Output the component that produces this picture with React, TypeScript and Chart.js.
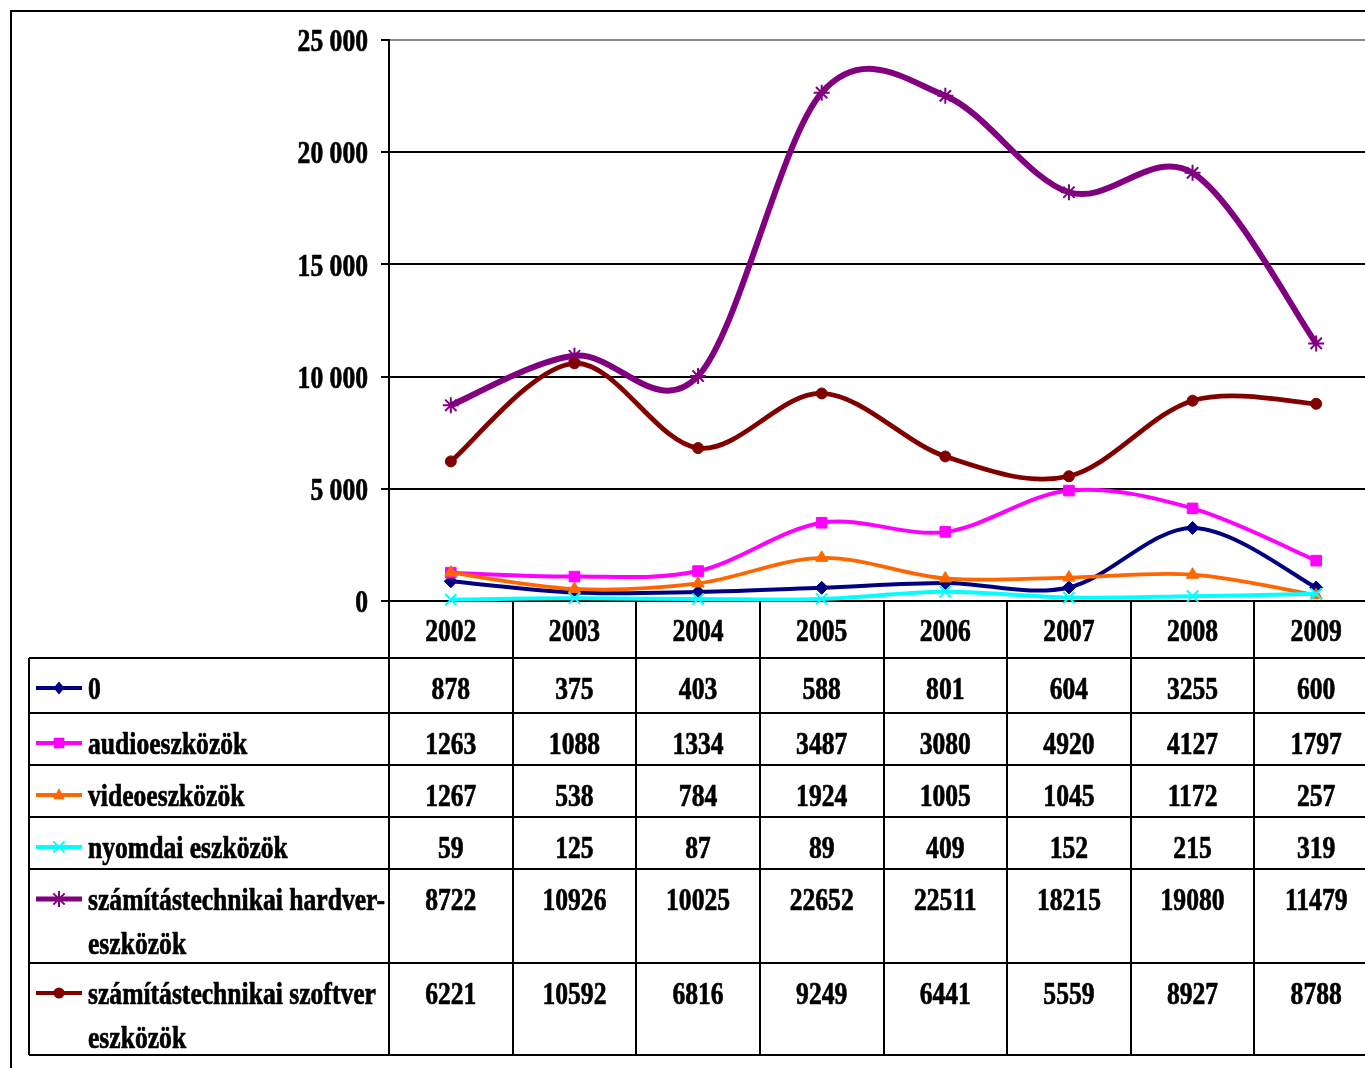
import React, { useEffect, useRef } from 'react';
import { Chart, registerables } from 'chart.js';

Chart.register(...registerables);

const years = ['2002', '2003', '2004', '2005', '2006', '2007', '2008', '2009'];
const seriesZero = [878, 375, 403, 588, 801, 604, 3255, 600];
const audioValues = [1263, 1088, 1334, 3487, 3080, 4920, 4127, 1797];
const videoValues = [1267, 538, 784, 1924, 1005, 1045, 1172, 257];
const printValues = [59, 125, 87, 89, 409, 152, 215, 319];
const hardwareValues = [8722, 10926, 10025, 22652, 22511, 18215, 19080, 11479];
const softwareValues = [6221, 10592, 6816, 9249, 6441, 5559, 8927, 8788];

const seriesLabels: string[][] = [
  ['0'],
  ['audioeszközök'],
  ['videoeszközök'],
  ['nyomdai eszközök'],
  ['számítástechnikai hardver-', 'eszközök'],
  ['számítástechnikai szoftver', 'eszközök'],
];
const seriesValues = [seriesZero, audioValues, videoValues, printValues, hardwareValues, softwareValues];
const seriesColors = ['#000080', '#FF00FF', '#FF6600', '#00FFFF', '#800080', '#800000'];
const seriesMarkers = ['rectRot', 'rect', 'triangle', 'crossRot', 'star', 'circle'];
const markerRadius = [6.5, 7.5, 7, 8, 8, 5.5];
const lineWidths = [4, 4, 3.8, 4, 6, 4.8];

// layout constants (pixels)
const FONT = 'bold 32px "Liberation Serif", "Times New Roman", serif';
const TEXT_SCALE = 0.8;
const TEXT_DY = 3;
const TABLE_LEFT = 29;
const ROW_TOPS = [658, 713, 765, 817, 869, 963];
const TABLE_BOTTOM = 1055;
const LABEL_X = 88;

function fmt(v: number): string {
  return String(v).replace(/\B(?=(\d{3})+(?!\d))/g, ' ');
}

function drawText(ctx: CanvasRenderingContext2D, text: string, x: number, y: number, align: CanvasTextAlign, sx = TEXT_SCALE) {
  ctx.save();
  ctx.translate(x, y + TEXT_DY);
  ctx.scale(sx, 1);
  ctx.font = FONT;
  ctx.fillStyle = '#000';
  ctx.strokeStyle = '#000';
  ctx.lineWidth = 0.7;
  ctx.lineJoin = 'round';
  ctx.textAlign = align;
  ctx.textBaseline = 'middle';
  ctx.fillText(text, 0, 0);
  ctx.strokeText(text, 0, 0);
  ctx.restore();
}

function drawMarker(ctx: CanvasRenderingContext2D, style: string, cx: number, cy: number, r: number, color: string) {
  ctx.save();
  ctx.fillStyle = color;
  ctx.strokeStyle = color;
  ctx.lineWidth = 2;
  ctx.beginPath();
  if (style === 'rectRot') {
    ctx.moveTo(cx, cy - r);
    ctx.lineTo(cx + r * 0.85, cy);
    ctx.lineTo(cx, cy + r);
    ctx.lineTo(cx - r * 0.85, cy);
    ctx.closePath();
    ctx.fill();
  } else if (style === 'rect') {
    const s = r * Math.SQRT1_2;
    ctx.rect(cx - s, cy - s, 2 * s, 2 * s);
    ctx.fill();
  } else if (style === 'triangle') {
    ctx.moveTo(cx, cy - r);
    ctx.lineTo(cx + r * 0.8, cy + r * 0.6);
    ctx.lineTo(cx - r * 0.8, cy + r * 0.6);
    ctx.closePath();
    ctx.fill();
  } else if (style === 'crossRot') {
    const d = r * Math.SQRT1_2;
    ctx.moveTo(cx - d, cy - d);
    ctx.lineTo(cx + d, cy + d);
    ctx.moveTo(cx + d, cy - d);
    ctx.lineTo(cx - d, cy + d);
    ctx.stroke();
  } else if (style === 'star') {
    const d = r * Math.SQRT1_2;
    ctx.moveTo(cx - d, cy - d);
    ctx.lineTo(cx + d, cy + d);
    ctx.moveTo(cx + d, cy - d);
    ctx.lineTo(cx - d, cy + d);
    ctx.moveTo(cx, cy - r);
    ctx.lineTo(cx, cy + r);
    ctx.stroke();
  } else {
    ctx.arc(cx, cy, r, 0, Math.PI * 2);
    ctx.fill();
  }
  ctx.restore();
}

// Excel-like smoothing (Catmull-Rom control points on the scale-computed pixel positions)
const excelSmooth = {
  id: 'excelSmooth',
  beforeDatasetsDraw(chart: any) {
    chart.data.datasets.forEach((_ds: any, i: number) => {
      const meta = chart.getDatasetMeta(i);
      const pts = meta.data as any[];
      for (let k = 0; k < pts.length; k++) {
        const p = pts[k];
        const prev = pts[k - 1] || p;
        const next = pts[k + 1] || p;
        const dx = (next.x - prev.x) / 6;
        const dy = (next.y - prev.y) / 6;
        p.cp1x = p.x - dx;
        p.cp1y = p.y - dy;
        p.cp2x = p.x + dx;
        p.cp2y = p.y + dy;
      }
      if (meta.dataset) {
        meta.dataset._pointsUpdated = true;
        meta.dataset._path = undefined;
      }
    });
  },
};

const tablePlugin = {
  id: 'dataTable',
  afterDraw(chart: any) {
    const ctx: CanvasRenderingContext2D = chart.ctx;
    const xs = chart.scales.x;
    const ys = chart.scales.y;
    const area = chart.chartArea;
    const W = chart.width;
    ctx.save();

    // outer frame
    ctx.strokeStyle = '#000';
    ctx.lineWidth = 2;
    ctx.beginPath();
    ctx.moveTo(11, chart.height + 5);
    ctx.lineTo(11, 11);
    ctx.lineTo(W + 5, 11);
    ctx.stroke();

    // y axis labels
    ys.ticks.forEach((t: any) => {
      drawText(ctx, fmt(t.value), 368, ys.getPixelForValue(t.value), 'right');
    });

    const colW = xs.getPixelForValue(1) - xs.getPixelForValue(0);

    // grid of table
    ctx.strokeStyle = '#000';
    ctx.lineWidth = 2;
    ctx.beginPath();
    [...ROW_TOPS, TABLE_BOTTOM].forEach((yy) => {
      ctx.moveTo(TABLE_LEFT, yy);
      ctx.lineTo(W, yy);
    });
    ctx.moveTo(TABLE_LEFT, ROW_TOPS[0]);
    ctx.lineTo(TABLE_LEFT, TABLE_BOTTOM);
    for (let i = 0; i <= years.length; i++) {
      const bx = Math.round(xs.getPixelForValue(0) - colW / 2 + i * colW);
      ctx.moveTo(bx, area.bottom);
      ctx.lineTo(bx, TABLE_BOTTOM);
    }
    ctx.stroke();

    // header years
    const headerMid = (area.bottom + ROW_TOPS[0]) / 2;
    years.forEach((yr, i) => {
      drawText(ctx, yr, xs.getPixelForValue(i), headerMid, 'center');
    });

    // rows
    seriesLabels.forEach((lines, r) => {
      const top = ROW_TOPS[r];
      const c1 = top + 30;
      // legend key
      ctx.save();
      ctx.strokeStyle = seriesColors[r];
      ctx.lineWidth = r === 4 ? 5 : 4;
      ctx.beginPath();
      ctx.moveTo(36, c1);
      ctx.lineTo(82, c1);
      ctx.stroke();
      ctx.restore();
      drawMarker(ctx, seriesMarkers[r], 59, c1, markerRadius[r], seriesColors[r]);
      lines.forEach((ln, li) => {
        drawText(ctx, ln, LABEL_X, c1 + li * 44, 'left');
      });
      seriesValues[r].forEach((v, i) => {
        drawText(ctx, String(v), xs.getPixelForValue(i), c1, 'center');
      });
    });

    ctx.restore();
  },
};

export default function App() {
  const ref = useRef<HTMLCanvasElement | null>(null);

  useEffect(() => {
    if (!ref.current) return;
    const datasets = seriesValues.map((vals, i) => ({
      label: seriesLabels[i].join(' '),
      data: vals,
      borderColor: seriesColors[i],
      backgroundColor: seriesColors[i],
      borderWidth: lineWidths[i],
      pointStyle: seriesMarkers[i] as any,
      pointRadius: markerRadius[i],
      pointBorderWidth: seriesMarkers[i] === 'crossRot' || seriesMarkers[i] === 'star' ? 2 : 1,
      pointBorderColor: seriesColors[i],
      pointBackgroundColor: seriesColors[i],
      tension: 0.4,
      fill: false,
      clip: false as any,
      order: seriesValues.length - i,
    }));
    const chart = new Chart(ref.current, {
      type: 'line',
      data: { labels: years, datasets },
      options: {
        responsive: false,
        animation: false,
        devicePixelRatio: 1,
        layout: { padding: { left: 381, top: 40, right: 22, bottom: 467 } },
        plugins: { legend: { display: false }, tooltip: { enabled: false } },
        scales: {
          x: { type: 'category', display: false, offset: true },
          y: {
            min: 0,
            max: 25000,
            ticks: { stepSize: 5000, display: false },
            grid: {
              lineWidth: 2,
              drawTicks: true,
              tickLength: 8,
              tickColor: '#000',
              color: (c: any) => (c.tick && c.tick.value === 25000 ? '#8c8c8c' : '#000'),
            },
            border: { display: true, color: '#000', width: 2 },
          },
        },
      },
      plugins: [excelSmooth, tablePlugin],
    });
    return () => chart.destroy();
  }, []);

  return (
    <div style={{ position: 'absolute', left: 0, top: 0, width: 1365, height: 1068, overflow: 'hidden', background: '#fff' }}>
      <canvas ref={ref} width={1400} height={1068} style={{ display: 'block', width: 1400, height: 1068 }} />
    </div>
  );
}
